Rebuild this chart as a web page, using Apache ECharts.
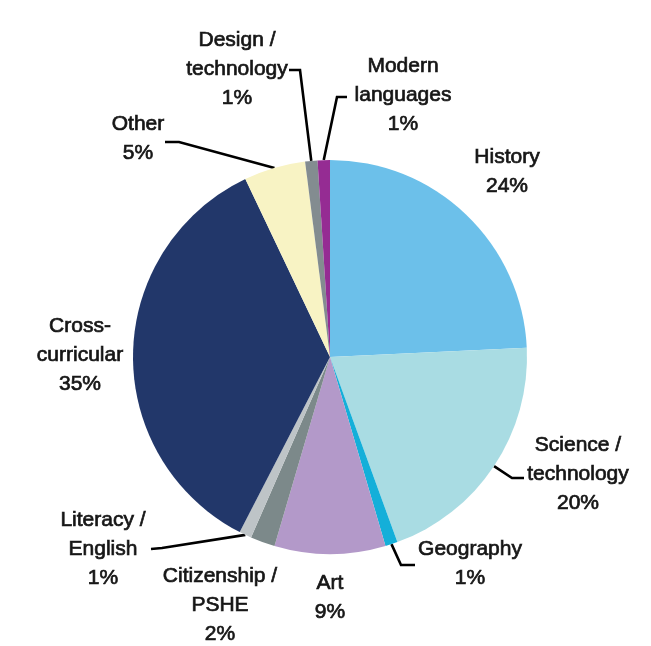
<!DOCTYPE html>
<html>
<head>
<meta charset="utf-8">
<script src="https://cdn.jsdelivr.net/npm/echarts@6/dist/echarts.min.js"></script>
<style>
html,body{margin:0;padding:0;background:#fff;}
#chart{width:651px;height:646px;}
</style>
</head>
<body>
<div id="chart"></div>
<script>
// ---- data ----
const categories = ["History", "Science /\ntechnology", "Geography", "Art", "Citizenship /\nPSHE",
  "Literacy /\nEnglish", "Cross-\ncurricular", "Other", "Design /\ntechnology", "Modern\nlanguages"];
const values = [24, 20, 1, 9, 2, 1, 35, 5, 1, 1];
const colors = ["#6CC0EA", "#A9DCE3", "#14AFD9", "#B399C9", "#7C898A", "#BEC4C7", "#22376A", "#F8F3C4", "#838C90", "#952C93"];
const hasLine = [false, true, true, false, false, true, false, true, true, true];

// ---- label layout (style only) ----
const labelPos = [
  {x: 507, y: 172},
  {x: 578, y: 474, turn: [512, 478], end: [524, 478]},
  {x: 470, y: 564, turn: [401, 565], end: [415, 565]},
  {x: 330, y: 598},
  {x: 220, y: 605},
  {x: 103, y: 549, turn: [162, 548], end: [151, 549]},
  {x: 80,  y: 355},
  {x: 138, y: 139, turn: [179, 142], end: [165, 142]},
  {x: 237, y: 69,  turn: [300, 70], end: [289, 70]},
  {x: 403, y: 95,  turn: [337, 97], end: [347, 97]}
];

const chart = echarts.init(document.getElementById('chart'), null, {renderer: 'canvas'});
const option = {
  backgroundColor: '#ffffff',
  animation: false,
  series: [{
    type: 'pie',
    center: [330, 357],
    radius: 197,
    startAngle: 90,
    clockwise: true,
    avoidLabelOverlap: false,
    silent: true,
    itemStyle: {borderWidth: 0},
    label: {
      show: true,
      position: 'outside',
      formatter: p => p.name + '\n' + p.value + '%',
      fontFamily: '"Liberation Sans", Arial, sans-serif',
      fontSize: 21,
      lineHeight: 29,
      color: '#161616',
      textBorderColor: '#161616',
      textBorderWidth: 0.7,
      align: 'center'
    },
    labelLine: {
      show: true,
      lineStyle: {color: '#000', width: 2.6}
    },
    labelLayout: function (params) {
      const pos = labelPos[params.dataIndex];
      const res = {x: pos.x, y: pos.y, align: 'center', verticalAlign: 'middle'};
      if (pos.turn && params.labelLinePoints) {
        res.labelLinePoints = [params.labelLinePoints[0], pos.turn, pos.end];
      }
      return res;
    },
    data: categories.map((c, i) => ({
      name: c,
      value: values[i],
      itemStyle: {color: colors[i]},
      labelLine: {show: hasLine[i]}
    }))
  }]
};
chart.setOption(option);
</script>
</body>
</html>
